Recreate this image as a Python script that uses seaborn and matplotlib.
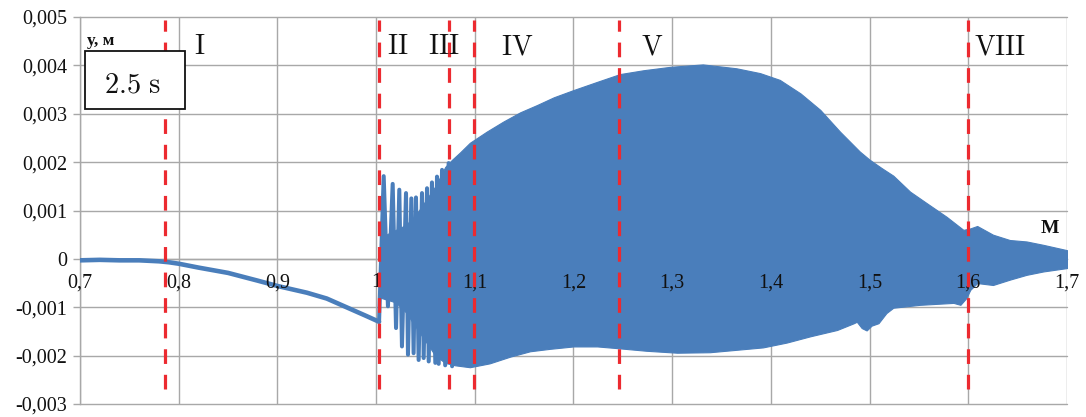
import numpy as np
import pandas as pd
import matplotlib
matplotlib.use("Agg")
import matplotlib.pyplot as plt
from matplotlib.ticker import FuncFormatter
from matplotlib.patches import Rectangle
import seaborn as sns

# Quasi-static deflection before the resonance zone (x: M, y: m)
x_static = [0.70, 0.72, 0.74, 0.76, 0.78, 0.79, 0.80, 0.82, 0.85, 0.88,
            0.90, 0.93, 0.95, 0.97, 0.99, 1.003]
y_static = [-0.00003, -0.00002, -0.00003, -0.00003, -0.00005, -0.00007, -0.00010,
            -0.00018, -0.00029, -0.00045, -0.00056, -0.00070, -0.00082, -0.00100,
            -0.00118, -0.00130]

# Individual peaks and troughs at the onset of oscillation
x_onset = [1.003, 1.0077, 1.012, 1.0168, 1.0202, 1.0235, 1.0262, 1.0303, 1.0323,
           1.0357, 1.038, 1.0404, 1.0431, 1.0465, 1.0482, 1.0516, 1.0533, 1.0566,
           1.060, 1.0617, 1.0634, 1.0668, 1.070, 1.0735, 1.077]
y_onset = [-0.00130, 0.00171, -0.00098, 0.00155, -0.00143, 0.00143, -0.00181, 0.00136,
           -0.00198, 0.00125, -0.00195, 0.00127, -0.00209, 0.00136, -0.00205, 0.00146,
           -0.00212, 0.00158, -0.00215, 0.00170, -0.00217, 0.00184, -0.00220, 0.00198,
           -0.00222]

# Upper envelope of the dense oscillation band
x_upper = [1.004, 1.010, 1.020, 1.030, 1.040, 1.050, 1.060, 1.070, 1.077, 1.085,
           1.095, 1.112, 1.129, 1.146, 1.163, 1.180, 1.200, 1.224, 1.247, 1.271,
           1.298, 1.331, 1.365, 1.389, 1.409, 1.430, 1.450, 1.470, 1.490, 1.500,
           1.512, 1.524, 1.541, 1.558, 1.578, 1.595, 1.602, 1.609, 1.625, 1.642,
           1.659, 1.676, 1.700]
y_upper = [0.00030, 0.00050, 0.00060, 0.00070, 0.00090, 0.00120, 0.00150, 0.00190,
           0.00205, 0.00220, 0.00240, 0.00263, 0.00284, 0.00303, 0.00318, 0.00334,
           0.00349, 0.00366, 0.00382, 0.00390, 0.00397, 0.00402, 0.00394, 0.00384,
           0.00370, 0.00342, 0.00308, 0.00263, 0.00222, 0.00205, 0.00188, 0.00172,
           0.00139, 0.00115, 0.00087, 0.00060, 0.00063, 0.00068, 0.00050, 0.00039,
           0.00036, 0.00029, 0.00018]

# Lower envelope of the dense oscillation band
x_lower = [1.004, 1.020, 1.030, 1.040, 1.050, 1.060, 1.070, 1.080, 1.095, 1.115,
           1.136, 1.156, 1.176, 1.200, 1.224, 1.247, 1.274, 1.305, 1.338, 1.365,
           1.392, 1.416, 1.440, 1.467, 1.484, 1.487, 1.492, 1.497, 1.502, 1.509,
           1.517, 1.524, 1.551, 1.585, 1.592, 1.598, 1.602, 1.609, 1.625, 1.642,
           1.659, 1.676, 1.700]
y_lower = [-0.00080, -0.00090, -0.00110, -0.00140, -0.00170, -0.00200, -0.00215,
           -0.00220, -0.00224, -0.00216, -0.00202, -0.00191, -0.00186, -0.00181,
           -0.00181, -0.00185, -0.00190, -0.00194, -0.00193, -0.00188, -0.00183,
           -0.00173, -0.00160, -0.00147, -0.00133, -0.00130, -0.00143, -0.00148,
           -0.00138, -0.00133, -0.00112, -0.00101, -0.00095, -0.00091, -0.00095,
           -0.00081, -0.00064, -0.00050, -0.00054, -0.00043, -0.00033, -0.00026,
           -0.00019]

# Zone boundaries and their labels
zone_bounds = [0.786, 1.003, 1.074, 1.099, 1.246, 1.600]
zone_names = ["I", "II", "III", "IV", "V", "VIII"]
zone_label_x = [0.8216, 1.022, 1.068, 1.143, 1.2795, 1.632]

x_ticks = [0.7, 0.8, 0.9, 1.0, 1.1, 1.2, 1.3, 1.4, 1.5, 1.6, 1.7]
x_tick_labels = ["0,7", "0,8", "0,9", "1", "1,1", "1,2", "1,3", "1,4", "1,5", "1,6", "1,7"]
y_ticks = [-0.003, -0.002, -0.001, 0.0, 0.001, 0.002, 0.003, 0.004, 0.005]

BLUE = "#4a7ebb"
RED = "#ec2a30"
GRID = "#a8a8a8"
INK = "#111111"

sns.set_theme(style="white")
plt.rcParams["font.family"] = ["Liberation Serif", "DejaVu Serif"]
plt.rcParams["mathtext.fontset"] = "cm"

fig = plt.figure(figsize=(10.86, 4.17), dpi=100)
ax = fig.add_axes([80 / 1086, 1 - 404 / 417, 987 / 1086, 387 / 417])

# Dense oscillation band: union of both envelope samplings
xb = np.array(sorted(set(x_upper) | set(x_lower)))
ax.fill_between(xb, np.interp(xb, x_upper, y_upper), np.interp(xb, x_lower, y_lower),
                color=BLUE, linewidth=0.8, edgecolor=BLUE, zorder=3)

static = pd.DataFrame({"x": x_static, "y": y_static})
onset = pd.DataFrame({"x": x_onset, "y": y_onset})
sns.lineplot(data=static, x="x", y="y", ax=ax, color=BLUE, linewidth=3.3,
             estimator=None, sort=False, zorder=4)
sns.lineplot(data=onset, x="x", y="y", ax=ax, color=BLUE, linewidth=2.9,
             estimator=None, sort=False, zorder=4)

# Zone boundaries
ax.vlines(zone_bounds, -0.0027, 0.00494, colors=RED, linewidth=2.3,
          linestyles=(0, (4.6, 3.4)), zorder=6)
for xl, name in zip(zone_label_x, zone_names):
    ax.text(xl, 0.00436, r"$\mathrm{%s}$" % name, ha="center", va="center",
            fontsize=20, color=INK, zorder=7)

ax.set_xlim(0.7, 1.7)
ax.set_ylim(-0.003, 0.005)
ax.set_xticks(x_ticks)
ax.set_yticks(y_ticks)
ax.yaxis.set_major_formatter(
    FuncFormatter(lambda v, p: f"{v:.3f}".replace(".", ",") if abs(v) > 1e-12 else "0"))

ax.grid(True, color=GRID, linewidth=1.0, zorder=0)
for gl in ax.get_xgridlines() + ax.get_ygridlines():
    gl.set_clip_on(False)
ax.set_axisbelow(True)

ax.spines["bottom"].set_position(("data", 0))
for sp in ax.spines.values():
    sp.set_color(GRID)
    sp.set_linewidth(1.0)
ax.spines["top"].set_visible(False)
ax.spines["right"].set_visible(False)

ax.tick_params(axis="x", length=0, labelbottom=False)
ax.tick_params(axis="y", length=5, width=1.0, color=GRID, pad=4,
               labelsize=14.5, labelcolor=INK, left=True)
ax.set_xlabel("")
ax.set_ylabel("")

# x tick labels sit just under the zero line, above the plotted band
for xt, lab in zip(x_ticks, x_tick_labels):
    ax.annotate(lab, (xt, 0), xytext=(0, -24), textcoords="offset pixels",
                ha="center", va="center", fontsize=14.5, color=INK,
                zorder=5, annotation_clip=False)

# Axis captions
fig.text(87 / 1086, 1 - 41 / 417, "у, м", fontsize=12.5, fontweight="bold",
         ha="left", va="center", color=INK)
fig.text(1050 / 1086, 1 - 228 / 417, "M", fontsize=14, fontweight="bold",
         ha="center", va="center", color=INK)

# Time stamp box
fig.patches.append(Rectangle((85 / 1086, 1 - 109 / 417), 100 / 1086, 58 / 417,
                             transform=fig.transFigure, facecolor="white",
                             edgecolor=INK, linewidth=1.3, zorder=8))
fig.text(133 / 1086, 1 - 86 / 417, r"$\mathrm{2.5\ s}$", fontsize=20.5,
         ha="center", va="center", color=INK, zorder=9)

fig.savefig("out.png", dpi=100)
